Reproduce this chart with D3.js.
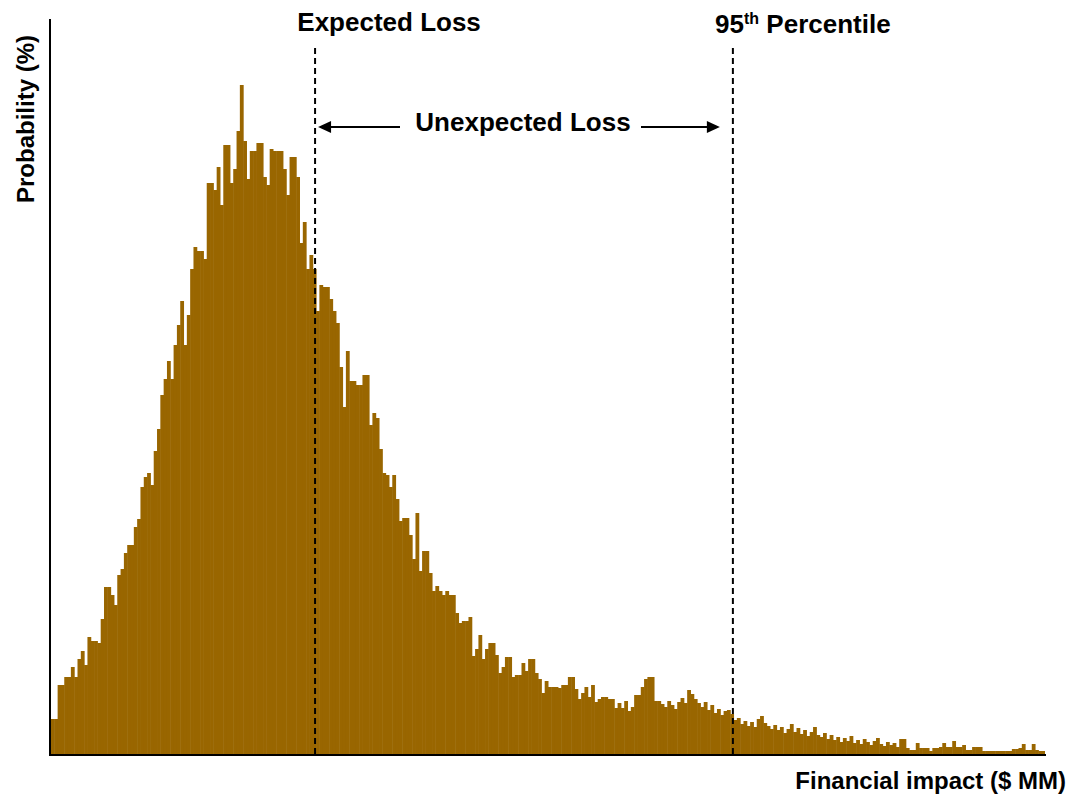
<!DOCTYPE html>
<html>
<head>
<meta charset="utf-8">
<script src="https://cdn.jsdelivr.net/npm/d3@7"></script>
<style>
  html, body { margin: 0; padding: 0; background: #ffffff; }
  svg { display: block; }
  text { font-family: "Liberation Sans", Arial, Helvetica, sans-serif; font-weight: bold; fill: #000; }
</style>
</head>
<body>
<svg id="chart" width="1073" height="796"></svg>
<script>
// Simulated loss distribution: frequency per bin (300 equal-width bins)
const binFrequency = [
  35, 35, 69, 69, 77, 77, 87, 77, 95, 103,
  89, 117, 113, 113, 111, 135, 167, 167, 159, 149,
  179, 185, 201, 209, 209, 227, 235, 267, 277, 281,
  269, 303, 325, 359, 375, 393, 375, 409, 429, 453,
  409, 439, 485, 507, 503, 503, 495, 571, 571, 564,
  587, 549, 609, 609, 571, 585, 623, 669, 613, 575,
  603, 603, 611, 611, 577, 569, 605, 603, 603, 603,
  585, 559, 597, 597, 577, 511, 532, 485, 499, 485,
  443, 469, 467, 467, 455, 443, 431, 387, 347, 403,
  373, 373, 369, 369, 379, 379, 329, 341, 336, 305,
  281, 279, 267, 279, 255, 233, 236, 236, 219, 195,
  241, 183, 203, 203, 181, 163, 168, 163, 159, 163,
  159, 159, 141, 131, 133, 133, 137, 98, 105, 119,
  95, 105, 111, 111, 99, 81, 87, 97, 97, 77,
  79, 79, 91, 83, 95, 95, 81, 75, 61, 73,
  67, 67, 67, 66, 69, 69, 77, 77, 65, 55,
  61, 67, 57, 69, 52, 55, 57, 57, 55, 55,
  46, 51, 46, 53, 43, 47, 59, 59, 67, 75,
  77, 77, 53, 53, 50, 47, 53, 49, 45, 52,
  56, 51, 64, 60, 55, 51, 47, 52, 44, 49,
  41, 45, 39, 43, 44, 40, 34, 36, 30, 33,
  28, 32, 27, 35, 38, 31, 28, 25, 29, 24,
  27, 21, 25, 30, 22, 26, 20, 24, 18, 22,
  27, 19, 17, 21, 15, 19, 14, 17, 12, 16,
  13, 18, 11, 14, 10, 15, 12, 9, 13, 16,
  10, 8, 12, 9, 11, 7, 15, 15, 6, 4,
  4, 11, 6, 6, 6, 3, 6, 6, 7, 11,
  7, 7, 13, 7, 7, 9, 4, 4, 7, 7,
  7, 3, 3, 3, 3, 3, 3, 3, 3, 3,
  5, 5, 6, 10, 4, 4, 10, 4, 3, 3
];

// Reference markers, in bin units along the impact axis
const expectedLossBin = 79.7;
const percentile95Bin = 205.8;

// Text labels
const yAxisTitle = "Probability (%)";
const xAxisTitle = "Financial impact ($ MM)";
const expectedLabel = "Expected Loss";
const unexpectedLabel = "Unexpected Loss";
const pctNumber = "95", pctSuffix = "th", pctWord = " Percentile";

const svg = d3.select("#chart");
const barColor = "#996600";

const x = d3.scaleLinear().domain([0, binFrequency.length]).range([51, 1045]);
const y = d3.scaleLinear().domain([0, 735]).range([754, 19]);

// Histogram bars (slightly overlapped so neighbouring bars read as one mass)
svg.append("g")
  .selectAll("rect")
  .data(binFrequency)
  .join("rect")
  .attr("x", (d, i) => x(i))
  .attr("width", (d, i) => x(i + 1) - x(i) + (i < binFrequency.length - 1 ? 0.5 : 0))
  .attr("y", d => y(d))
  .attr("height", d => y(0) - y(d))
  .attr("fill", barColor);

// Axes: plain lines, no ticks
const xAxis = svg.append("g")
  .attr("transform", "translate(0,755)")
  .call(d3.axisBottom(x).tickValues([]).tickSizeOuter(0));
xAxis.select(".domain").attr("stroke", "#000").attr("stroke-width", 2)
  .attr("d", `M${x(0) - 2},0H${x(binFrequency.length) + 1}`);

const yAxis = svg.append("g")
  .attr("transform", "translate(50,0)")
  .call(d3.axisLeft(y).tickValues([]).tickSizeOuter(0));
yAxis.select(".domain").attr("stroke", "#000").attr("stroke-width", 2)
  .attr("d", `M0,${y(735)}V${y(0) + 2}`);

// Dashed marker lines
[expectedLossBin, percentile95Bin].forEach(b => {
  svg.append("line")
    .attr("x1", x(b)).attr("x2", x(b))
    .attr("y1", 48).attr("y2", y(0))
    .attr("stroke", "#000")
    .attr("stroke-width", 2)
    .attr("stroke-dasharray", "6,4");
});

// Marker labels
svg.append("text")
  .attr("x", x(expectedLossBin) + 74)
  .attr("y", 31)
  .attr("text-anchor", "middle")
  .style("font-size", "26px")
  .text(expectedLabel);

const pct = svg.append("text")
  .attr("x", x(percentile95Bin) + 70)
  .attr("y", 33)
  .attr("text-anchor", "middle")
  .style("font-size", "26px");
pct.append("tspan").text(pctNumber);
pct.append("tspan").attr("dy", -9).style("font-size", "16px").text(pctSuffix);
pct.append("tspan").attr("dy", 9).text(pctWord);

// Unexpected loss span with arrows
const arrowY = 127;
const headLen = 13, headHalf = 6;
const leftTip = x(expectedLossBin) + 3;
const rightTip = x(percentile95Bin) - 13;
const midX = (leftTip + rightTip) / 2 + 4;

svg.append("text")
  .attr("x", midX)
  .attr("y", 131)
  .attr("text-anchor", "middle")
  .style("font-size", "26px")
  .text(unexpectedLabel);

svg.append("line")
  .attr("x1", leftTip + headLen - 1).attr("x2", 400)
  .attr("y1", arrowY).attr("y2", arrowY)
  .attr("stroke", "#000").attr("stroke-width", 2);
svg.append("path")
  .attr("d", `M${leftTip},${arrowY}L${leftTip + headLen},${arrowY - headHalf}L${leftTip + headLen},${arrowY + headHalf}Z`)
  .attr("fill", "#000");

svg.append("line")
  .attr("x1", 641).attr("x2", rightTip - headLen + 1)
  .attr("y1", arrowY).attr("y2", arrowY)
  .attr("stroke", "#000").attr("stroke-width", 2);
svg.append("path")
  .attr("d", `M${rightTip},${arrowY}L${rightTip - headLen},${arrowY - headHalf}L${rightTip - headLen},${arrowY + headHalf}Z`)
  .attr("fill", "#000");

// Axis titles
svg.append("text")
  .attr("transform", "translate(34,119) rotate(-90)")
  .attr("text-anchor", "middle")
  .style("font-size", "24px")
  .text(yAxisTitle);

svg.append("text")
  .attr("x", 1066)
  .attr("y", 789)
  .attr("text-anchor", "end")
  .style("font-size", "24px")
  .text(xAxisTitle);
</script>
</body>
</html>
